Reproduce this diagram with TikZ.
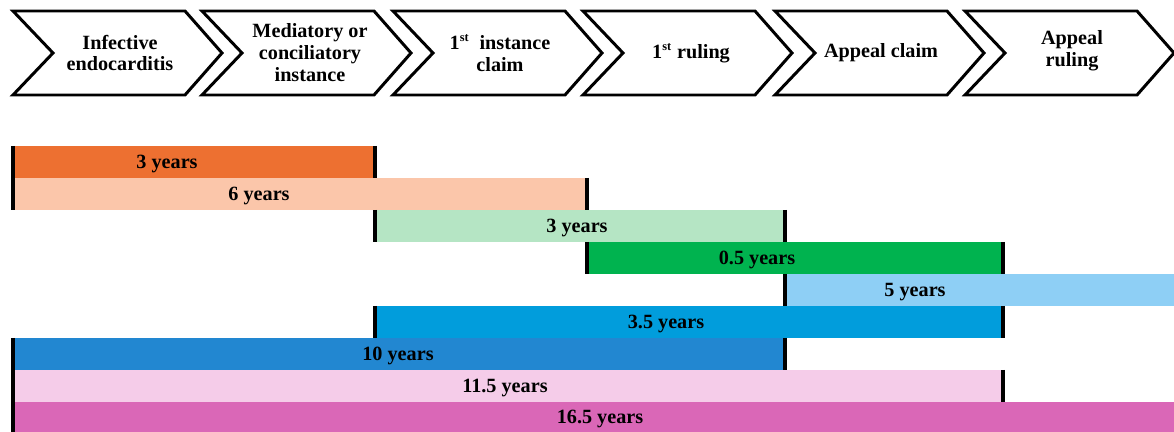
\documentclass[tikz,border=0pt]{standalone}
\usepackage{fontspec}
\setmainfont{Liberation Serif}
\usepackage{tikz}
\usetikzlibrary{positioning}
\definecolor{orangebar}{HTML}{ED7031}
\definecolor{salmonbar}{HTML}{FBC6AA}
\definecolor{mintbar}{HTML}{B5E5C4}
\definecolor{greenbar}{HTML}{00B34F}
\definecolor{skybar}{HTML}{8ECFF5}
\definecolor{bluebar}{HTML}{019DDC}
\definecolor{midbluebar}{HTML}{2287D1}
\definecolor{pinkbar}{HTML}{F5CCE9}
\definecolor{magentabar}{HTML}{DA67B7}
\newcommand{\chev}[1]{\draw[stage] (#1,11) -- ++(172,0) -- ++(37,42) -- ++(-37,42) -- ++(-172,0) -- ++(40,-42) -- cycle;}

\begin{document}
\begin{tikzpicture}[x=0.02cm, y=-0.02cm,
  stage/.style={draw, line width=1.7pt, line join=miter, fill=white},
  lbl/.style={font=\fontsize{11.5}{12.5}\selectfont\bfseries, align=center, inner sep=0pt},
  tick/.style={line width=2pt}]
\useasboundingbox (0,0) rectangle (1174,432);

\chev{13} \chev{202} \chev{393} \chev{583} \chev{775} \chev{965}
\node[lbl] (S0) at (120,53) {Infective\\endocarditis};
\node[lbl] (S1) at (310,53) {Mediatory or\\conciliatory\\instance};
\node[lbl] (S2) at (500,53) {1\textsuperscript{\scriptsize st}~ instance\\claim};
\node[lbl] (S3) at (691,53) {1\textsuperscript{\scriptsize st} ruling};
\node[lbl] (S4) at (881,53) {Appeal claim};
\node[lbl] (S5) at (1072,51) {Appeal\\ruling};

\fill[orangebar] (13,146) rectangle (375,178);
\fill[salmonbar] (13,178) rectangle (587,210);
\fill[mintbar] (375,210) rectangle (785,242);
\fill[greenbar] (587,242) rectangle (1003,274);
\fill[skybar] (785,274) rectangle (1174,306);
\fill[bluebar] (375,306) rectangle (1003,338);
\fill[midbluebar] (13,338) rectangle (785,370);
\fill[pinkbar] (13,370) rectangle (1003,402);
\fill[magentabar] (13,402) rectangle (1174,432);

\draw[tick] (13,146) -- (13,210);
\draw[tick] (375,146) -- (375,178);
\draw[tick] (587,178) -- (587,210);
\draw[tick] (375,210) -- (375,242);
\draw[tick] (785,210) -- (785,242);
\draw[tick] (587,242) -- (587,274);
\draw[tick] (1003,242) -- (1003,274);
\draw[tick] (785,274) -- (785,306);
\draw[tick] (375,306) -- (375,338);
\draw[tick] (1003,306) -- (1003,338);
\draw[tick] (13,338) -- (13,432);
\draw[tick] (785,338) -- (785,370);
\draw[tick] (1003,370) -- (1003,402);

\node[lbl] (B1) at (167,164) {3 years};
\node[lbl] (B2) at (259,196) {6 years};
\node[lbl] (B3) at (577,228) {3 years};
\node[lbl] (B4) at (757,260) {0.5 years};
\node[lbl] (B5) at (915,292) {5 years};
\node[lbl] (B6) at (666,324) {3.5 years};
\node[lbl] (B7) at (398,356) {10 years};
\node[lbl] (B8) at (505,388) {11.5 years};
\node[lbl] (B9) at (600,419) {16.5 years};
\end{tikzpicture}
\end{document}
